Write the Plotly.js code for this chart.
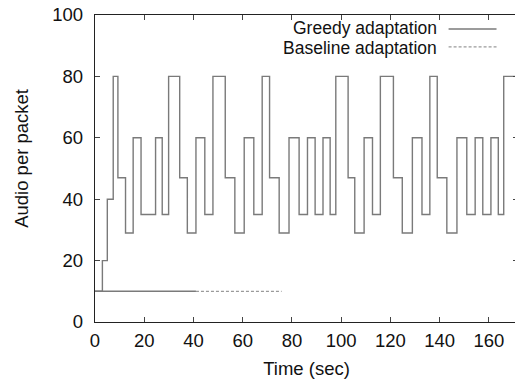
<!DOCTYPE html>
<html>
<head>
<meta charset="utf-8">
<script src="https://cdn.plot.ly/plotly-3.0.1.min.js"></script>
<style>
html, body { margin: 0; padding: 0; overflow: hidden; background: #fff; }
#chart { width: 522px; height: 379px; }
</style>
</head>
<body>
<div id="chart"></div>
<script>
// Greedy adaptation: time of each step change (sec) and audio per packet from that time on
var greedyTime = [0, 3, 5, 7.4, 9.3, 12.4, 15.5, 18.7, 24.6, 27.3,
                  29.9, 34.4, 37.5, 41.0, 44.6, 47.9, 52.9, 56.8, 60.6, 64.5,
                  67.9, 70.9, 74.8, 78.8, 82.9, 86.3, 89.4, 92.6, 95.5, 97.8,
                  102.8, 105.5, 109.3, 112.7, 115.9, 121.2, 124.8, 128.9, 132.8, 136.0,
                  139.0, 142.9, 147.0, 151.0, 154.4, 157.5, 160.8, 163.8, 166.0, 172];
var greedyAudio = [10, 20, 40, 80, 47, 29, 60, 35, 60, 35,
                   80, 47, 29, 60, 35, 80, 47, 29, 60, 35,
                   80, 47, 29, 60, 35, 60, 35, 60, 35, 80,
                   47, 29, 60, 35, 80, 47, 29, 60, 35, 80,
                   47, 29, 60, 35, 60, 35, 60, 35, 80, 80];
// Baseline adaptation (constant level); first part drawn solid, remainder dashed
var baselineSolidTime = [0, 41];
var baselineSolidAudio = [10, 10];
var baselineDashTime = [41, 75.8];
var baselineDashAudio = [10, 10];
var legendLabels = ["Greedy adaptation", "Baseline adaptation"];
var xTicks = [0, 20, 40, 60, 80, 100, 120, 140, 160];
var yTicks = [0, 20, 40, 60, 80, 100];

var lineGrey = "#7a7a7a";
var font = "Liberation Sans, Arial, Helvetica, sans-serif";
var fs = 18.5;
var legendFs = 17.5;
var row1 = 28, row2 = 48.5;

var traces = [
  { x: greedyTime, y: greedyAudio, type: "scatter", mode: "lines",
    line: { shape: "hv", color: lineGrey, width: 1.4 }, name: legendLabels[0],
    showlegend: false, hoverinfo: "skip" },
  { x: baselineSolidTime, y: baselineSolidAudio, type: "scatter", mode: "lines",
    line: { color: lineGrey, width: 1.4 }, showlegend: false, hoverinfo: "skip" },
  { x: baselineDashTime, y: baselineDashAudio, type: "scatter", mode: "lines",
    line: { color: "#9a9a9a", width: 1.2, dash: "3px,2px" }, name: legendLabels[1],
    showlegend: false, hoverinfo: "skip" }
];

var axisCommon = {
  showline: true, linecolor: "#222", linewidth: 1.3, mirror: "ticks",
  ticks: "inside", ticklen: 5, tickwidth: 1, tickcolor: "#444",
  showgrid: false, zeroline: false,
  tickfont: { family: font, size: fs, color: "#111" }
};

var layout = {
  width: 522, height: 379,
  margin: { l: 95, r: 3.5, t: 15, b: 56.5 },
  paper_bgcolor: "#fff", plot_bgcolor: "#fff",
  showlegend: false,
  xaxis: Object.assign({}, axisCommon, {
    range: [0, 171.8], tickvals: xTicks, ticktext: xTicks.map(String),
    ticklabelstandoff: 1,
    title: { text: "Time (sec)", font: { family: font, size: fs, color: "#111" }, standoff: 14 }
  }),
  yaxis: Object.assign({}, axisCommon, {
    range: [0, 100], tickvals: yTicks, ticktext: yTicks.map(String),
    ticklabelstandoff: 7
  }),
  annotations: [
    { xref: "paper", yref: "paper", x: (438 - 95) / 423.5, y: (322.5 - row1) / 307.5,
      xanchor: "right", yanchor: "middle", showarrow: false, text: legendLabels[0],
      borderpad: 0, font: { family: font, size: legendFs, color: "#111" } },
    { xref: "paper", yref: "paper", x: (438 - 95) / 423.5, y: (322.5 - row2) / 307.5,
      xanchor: "right", yanchor: "middle", showarrow: false, text: legendLabels[1],
      borderpad: 0, font: { family: font, size: legendFs, color: "#111" } },
    { xref: "paper", yref: "paper", x: (22 - 95) / 423.5, y: (322.5 - 159) / 307.5,
      xanchor: "center", yanchor: "middle", showarrow: false, textangle: -90,
      text: "Audio per packet", font: { family: font, size: fs, color: "#111" } }
  ],
  shapes: [
    { type: "line", xref: "paper", yref: "paper",
      x0: (449 - 95) / 423.5, x1: (497 - 95) / 423.5,
      y0: (322.5 - 29) / 307.5, y1: (322.5 - 29) / 307.5,
      line: { color: lineGrey, width: 1.4 } },
    { type: "line", xref: "paper", yref: "paper",
      x0: (449 - 95) / 423.5, x1: (497 - 95) / 423.5,
      y0: (322.5 - 47) / 307.5, y1: (322.5 - 47) / 307.5,
      line: { color: "#9a9a9a", width: 1.2, dash: "3px,2px" } }
  ]
};

Plotly.newPlot("chart", traces, layout, { displayModeBar: false, staticPlot: true });
</script>
</body>
</html>
